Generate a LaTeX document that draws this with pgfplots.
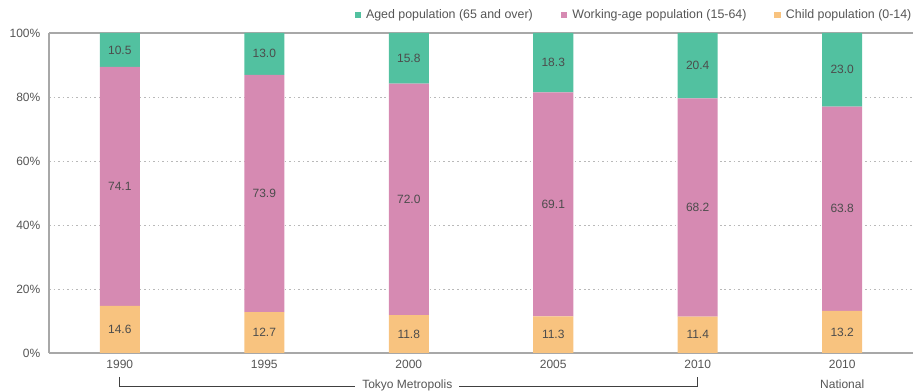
\documentclass[border=0pt]{standalone}
\usepackage{pgfplots}
\pgfplotsset{compat=1.18}
\usepackage{fontspec}
\setmainfont{Liberation Sans}
\definecolor{aged}{HTML}{52C1A0}
\definecolor{work}{HTML}{D68AB2}
\definecolor{child}{HTML}{F8C37F}
\definecolor{axisgray}{HTML}{A8A8A8}
\definecolor{txt}{HTML}{555555}
\begin{document}
\begin{tikzpicture}[x=1pt,y=1pt]
\pgfplotsset{
  common/.style={
    width=648pt, height=240pt, scale only axis,
    xmin=-0.49, xmax=5.49, ymin=0, ymax=100,
    enlargelimits=false, clip=false,
  }
}
\begin{axis}[common,
  ybar stacked, bar width=0.277,
  axis x line=box, axis y line=left,
  axis line style={-, draw=axisgray, line width=0.8pt},
  xtick={0,...,5},
  xticklabels={1990,1995,2000,2005,2010,2010},
  ytick={0,20,...,100},
  yticklabel={\pgfmathprintnumber{\tick}\%},
  /pgf/number format/assume math mode=true,
  major tick length=0pt,
  tick label style={font=\fontsize{9}{11}\selectfont, text=txt},
  xticklabel style={yshift=-2pt},
  yticklabel style={xshift=-3pt},
  ymajorgrids,
  grid style={draw=axisgray!80, line width=0.6pt, dash pattern=on 1.2pt off 2.2pt},
  legend columns=-1,
  reverse legend,
  legend style={at={(1,1)}, anchor=east, yshift=13.5pt, xshift=1pt,
    draw=none, fill=none, inner sep=0pt,
    font=\fontsize{9.3}{11}\selectfont, text=txt,
    /tikz/every odd column/.append style={column sep=2pt},
    /tikz/every even column/.append style={column sep=19pt}},
  legend image code/.code={\fill[#1, draw=none] (0pt,-2.3pt) rectangle (4.6pt,2.3pt);},
]
% segment heights as drawn (each bar drawn to 100%)
\addplot[fill=child, draw=none] coordinates {(0,14.72) (1,12.75) (2,11.85) (3,11.45) (4,11.4) (5,13.2)};
\addlegendentry{Child population (0-14)}
\addplot[fill=work, draw=none] coordinates {(0,74.70) (1,74.20) (2,72.29) (3,70.01) (4,68.2) (5,63.8)};
\addlegendentry{Working-age population (15-64)}
\addplot[fill=aged, draw=none] coordinates {(0,10.58) (1,13.05) (2,15.86) (3,18.54) (4,20.4) (5,23.0)};
\addlegendentry{Aged population (65 and over)}
\draw[draw=black!75, line width=0.6pt] (axis cs:0,-7.5) -- (axis cs:0,-10.3) -- (axis cs:1.63,-10.3);
\draw[draw=black!75, line width=0.6pt] (axis cs:2.35,-10.3) -- (axis cs:4,-10.3) -- (axis cs:4,-7.5);
\node[inner sep=0pt, font=\fontsize{9}{11}\selectfont, text=txt] at (axis cs:1.99,-10.1) {Tokyo Metropolis};
\node[font=\fontsize{9}{11}\selectfont, text=txt] at (axis cs:5,-9.7) {National};
\end{axis}
\begin{axis}[common, hide axis]
\addplot[draw=none, mark=none, nodes near coords, point meta=explicit symbolic,
  every node near coord/.style={anchor=center, font=\fontsize{9}{11}\selectfont, text=black!70}]
  coordinates {
  (0,7.36)[14.6] (1,6.38)[12.7] (2,5.93)[11.8] (3,5.73)[11.3] (4,5.7)[11.4] (5,6.6)[13.2]
  (0,52.07)[74.1] (1,49.85)[73.9] (2,48.0)[72.0] (3,46.46)[69.1] (4,45.5)[68.2] (5,45.1)[63.8]
  (0,94.71)[10.5] (1,93.48)[13.0] (2,92.07)[15.8] (3,90.73)[18.3] (4,89.8)[20.4] (5,88.5)[23.0]
  };
\end{axis}
\pgfresetboundingbox
\path (-36.75pt,-29.25pt) rectangle (648.75pt,264.75pt);
\end{tikzpicture}
\end{document}
